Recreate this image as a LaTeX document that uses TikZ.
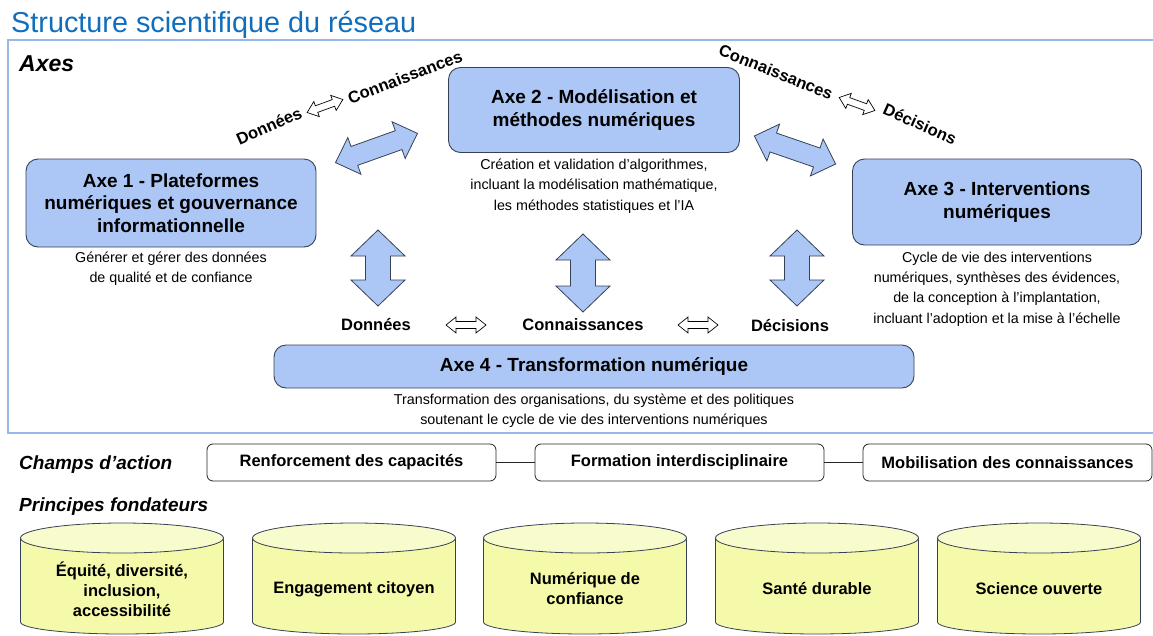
\documentclass[tikz,border=0pt]{standalone}
\usepackage{fontspec}
\setmainfont{Liberation Sans}
\definecolor{titleblue}{RGB}{16,110,190}
\definecolor{framec}{RGB}{150,185,235}
\definecolor{axefill}{RGB}{172,199,245}
\definecolor{axedraw}{RGB}{55,65,85}
\definecolor{cylfill}{RGB}{245,250,170}
\definecolor{cyltop}{RGB}{248,252,205}
% #1 centre, #2 angle, #3 length, #4 half head width, #5 half shaft width, #6 head length
\newcommand{\bigarrow}[6]{%
 \begin{scope}[shift={#1}, rotate=#2]
  \draw[barrow] (-#3/2,0) -- (-#3/2+#6,#4) -- (-#3/2+#6,#5) -- (#3/2-#6,#5) -- (#3/2-#6,#4) -- (#3/2,0)
   -- (#3/2-#6,-#4) -- (#3/2-#6,-#5) -- (-#3/2+#6,-#5) -- (-#3/2+#6,-#4) -- cycle;
 \end{scope}}
\newcommand{\smallarrow}[3]{%
 \begin{scope}[shift={#1}, rotate=#2]
  \draw[sarrow] (-#3/2,0) -- (-#3/2+10,8) -- (-#3/2+10,3.5) -- (#3/2-10,3.5) -- (#3/2-10,8) -- (#3/2,0)
   -- (#3/2-10,-8) -- (#3/2-10,-3.5) -- (-#3/2+10,-3.5) -- (-#3/2+10,-8) -- cycle;
 \end{scope}}
\newcommand{\cyl}[3]{%
 \draw[cylbody] (#1-101.5,538) -- (#1-101.5,622) arc[start angle=180,end angle=0,x radius=101.5,y radius=12] -- (#1+101.5,538) -- cycle;
 \draw[cyltopst] (#1,538) ellipse[x radius=101.5, y radius=15];
 \node[cyltext] (#2) at (#1,589) {#3};}
\begin{document}
\begin{tikzpicture}[x=1pt,y=-1pt,
  axebox/.style={draw=axedraw, fill=axefill, rounded corners=12pt, line width=0.9pt, align=center, inner sep=0pt, font=\fontsize{19}{22.5}\selectfont\bfseries},
  desc/.style={align=center, inner sep=0pt, font=\fontsize{14.3}{20.3}\selectfont},
  lbl/.style={inner sep=0pt, font=\fontsize{16.5}{20}\selectfont\bfseries},
  champ/.style={draw=black!85, rounded corners=6pt, line width=0.8pt, minimum width=289pt, minimum height=37pt, inner sep=0pt, font=\fontsize{16.5}{20}\selectfont\bfseries},
  head/.style={inner sep=0pt, anchor=base west, font=\fontsize{19}{22}\selectfont\bfseries\itshape},
  cyltext/.style={align=center, inner sep=0pt, font=\fontsize{16.5}{20}\selectfont\bfseries},
  cylbody/.style={draw=axedraw, fill=cylfill, line width=0.8pt},
  cyltopst/.style={draw=axedraw, fill=cyltop, line width=0.8pt},
  barrow/.style={draw=axedraw, fill=axefill, line width=0.8pt, line join=miter},
  sarrow/.style={draw=black, fill=white, line width=0.7pt}]
\useasboundingbox (0,0) rectangle (1153,635);
\clip (0,0) rectangle (1153,635);
\fill[white] (0,0) rectangle (1153,635);
% title and frame
\node[inner sep=0pt, anchor=base west, text=titleblue, font=\fontsize{28.8}{32}\selectfont] (title) at (11,32) {Structure scientifique du réseau};
\draw[framec, line width=2pt] (8,40) rectangle (1175,433);
\node[head, font=\fontsize{23}{26}\selectfont\bfseries\itshape] (axes) at (19,71) {Axes};
% axes boxes
\node[axebox, minimum width=290pt, minimum height=88pt] (a1) at (171,203) {Axe 1 - Plateformes\\numériques et gouvernance\\informationnelle};
\node[axebox, minimum width=291pt, minimum height=85pt] (a2) at (594,110) {Axe 2 - Modélisation et\\méthodes numériques};
\node[axebox, minimum width=289pt, minimum height=86pt] (a3) at (997,202) {Axe 3 - Interventions\\numériques};
\node[axebox, minimum width=640pt, minimum height=43pt] (a4) at (594,366.5) {Axe 4 - Transformation numérique};
% descriptions
\node[desc] (d1) at (171,269) {Générer et gérer des données\\de qualité et de confiance};
\node[desc] (d2) at (594,186) {Création et validation d'algorithmes,\\incluant la modélisation mathématique,\\les méthodes statistiques et l'IA};
\node[desc] (d3) at (997,289) {Cycle de vie des interventions\\numériques, synthèses des évidences,\\de la conception à l'implantation,\\incluant l'adoption et la mise à l'échelle};
\node[desc] (d4) at (594,410.5) {Transformation des organisations, du système et des politiques\\soutenant le cycle de vie des interventions numériques};
% big block arrows
\bigarrow{(378,268)}{90}{76}{27}{12.5}{26}
\bigarrow{(583,273)}{90}{78}{27}{12.5}{26}
\bigarrow{(797,268)}{90}{76}{27}{12.5}{26}
\bigarrow{(376.5,148)}{19.6}{87}{19.5}{10}{20}
\bigarrow{(795,150)}{-19}{86}{19.5}{10}{20}
% bottom labels
\node[lbl] (l1) at (376,325) {Données};
\node[lbl] (l2) at (583,325) {Connaissances};
\node[lbl] (l3) at (790,326) {Décisions};
\smallarrow{(466,325)}{0}{40}
\smallarrow{(698,325)}{0}{40}
% rotated labels
\node[lbl, rotate=24] (r1) at (269,126) {Données};
\smallarrow{(325,106)}{20}{38}
\node[lbl, rotate=21] (r2) at (405,77) {Connaissances};
\node[lbl, rotate=-22] (r3) at (776,72) {Connaissances};
\smallarrow{(857,104)}{-20}{38}
\node[lbl, rotate=-24] (r4) at (920,124) {Décisions};
% champs d'action
\node[head] (champs) at (19,469) {Champs d’action};
\node[champ] (c1) at (351.5,462.5) {Renforcement des capacités};
\node[champ] (c2) at (679.5,462.5) {Formation interdisciplinaire};
\node[champ] (c3) at (1007.5,462.5) {Mobilisation des connaissances};
\draw[black!85, line width=0.8pt] (c1.east) -- (c2.west);
\draw[black!85, line width=0.8pt] (c2.east) -- (c3.west);
% principes
\node[head] (princ) at (19,511) {Principes fondateurs};
\cyl{122}{p1}{Équité, diversité,\\inclusion,\\accessibilité}
\cyl{354}{p2}{Engagement citoyen}
\cyl{585}{p3}{Numérique de\\confiance}
\cyl{817}{p4}{Santé durable}
\cyl{1039}{p5}{Science ouverte}
\end{tikzpicture}
\end{document}
